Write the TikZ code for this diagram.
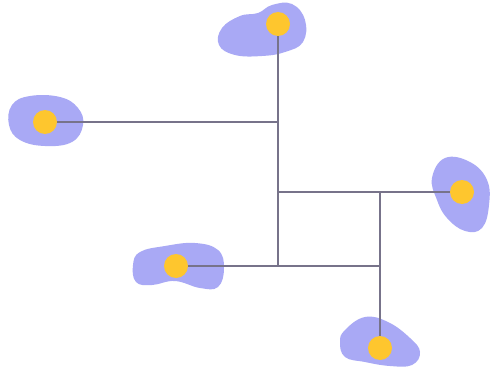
\documentclass[tikz,border=0pt]{standalone}
\begin{document}
\begin{tikzpicture}[x=1pt,y=-1pt,
  blob/.style={fill=blobc,draw=none},
  dot/.style={circle,fill=dotc,draw=none,minimum size=24pt,inner sep=0pt},
  wire/.style={draw=wirec,line width=2pt}]
\definecolor{blobc}{HTML}{A9A9F5}
\definecolor{dotc}{HTML}{FEC62E}
\definecolor{wirec}{HTML}{77738A}
\fill[white] (0,0) rectangle (490,369);
\useasboundingbox (0,0) rectangle (490,369);
% blobs
\fill[blob] plot[smooth cycle,tension=0.7] coordinates {(222,28) (240,16) (258,13) (272,5) (292,4) (305,20) (303,42) (285,52) (262,56) (235,55) (219,45)};
\fill[blob] plot[smooth cycle,tension=0.7] coordinates {(12,105) (30,96) (60,97) (78,108) (83,125) (72,142) (45,146) (20,140) (9,125)};
\fill[blob] plot[smooth cycle,tension=0.7] coordinates {(445,158) (470,162) (487,180) (489,205) (482,228) (465,231) (447,218) (437,200) (432,178)};
\fill[blob] plot[smooth cycle,tension=0.7] coordinates {(140,252) (165,246) (195,243) (218,250) (224,268) (218,287) (200,288) (175,281) (152,285) (136,282) (133,265)};
\fill[blob] plot[smooth cycle,tension=0.7] coordinates {(345,330) (365,317) (388,322) (410,338) (420,352) (412,365) (390,366) (365,362) (345,357) (340,342)};
% junctions
\coordinate (j1) at (278,122);
\coordinate (j2) at (278,192);
\coordinate (j3) at (278,266);
\coordinate (j4) at (380,192);
\coordinate (j5) at (380,266);
% dots
\node[dot] (top) at (278,24) {};
\node[dot] (left) at (45,122) {};
\node[dot] (right) at (462,192) {};
\node[dot] (bl) at (176,266) {};
\node[dot] (bot) at (380,348) {};
% wires
\draw[wire] (top.south) -- (j3);
\draw[wire] (left.east) -- (j1);
\draw[wire] (j2) -- (right.west);
\draw[wire] (bl.east) -- (j5);
\draw[wire] (j4) -- (bot.north);
\end{tikzpicture}
\end{document}
